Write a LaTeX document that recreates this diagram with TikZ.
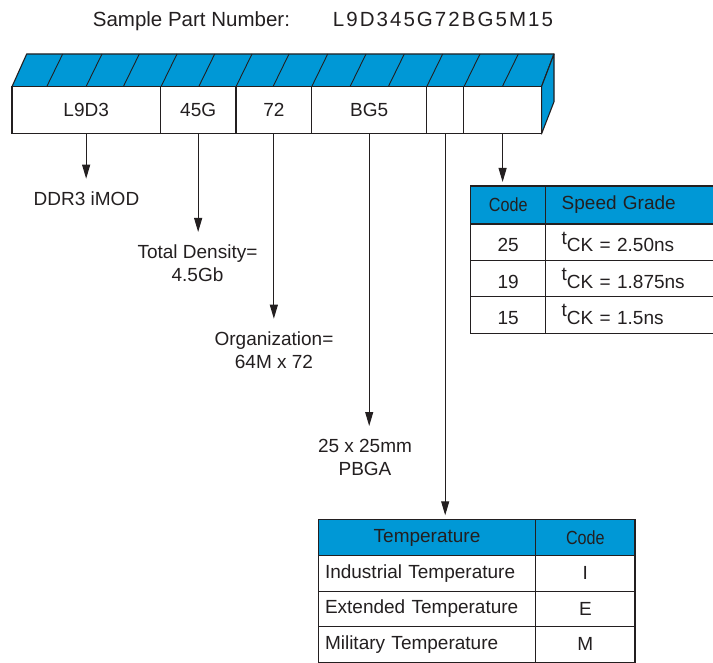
\documentclass[tikz,border=0pt]{standalone}
\usepackage{fontspec}
\setmainfont{Liberation Sans}
\usepackage{xcolor}
\usepackage{graphicx}
\usepackage{tikz}
\usetikzlibrary{arrows.meta}

\definecolor{partblue}{RGB}{0,152,214}
\definecolor{inkgray}{RGB}{35,31,32}

\newcommand{\tck}{\raisebox{0.4em}{t}CK}

\begin{document}
\begin{tikzpicture}[
  x=1pt, y=-1pt,
  txt/.style={font=\fontsize{19}{23}\selectfont, text=inkgray},
  cell/.style={draw=inkgray, line width=1.1pt, fill=white, minimum height=47.3pt, inner sep=0pt, outer sep=0pt, txt},
  face/.style={draw=inkgray, line width=1.1pt, fill=partblue, line join=round},
  hatch/.style={draw=inkgray, line width=0.9pt},
  lbl/.style={txt, align=center, anchor=north, inner xsep=0pt, inner ysep=13pt},
  head/.style={draw=inkgray, line width=1.3pt, fill=partblue, inner sep=0pt, outer sep=0pt, txt},
  row/.style={draw=inkgray, line width=1.3pt, fill=white, inner sep=0pt, outer sep=0pt, txt},
  srow/.style={row, minimum height=36.4pt, text height=19pt, text depth=0pt},
  lcol/.style={align=left, inner xsep=#1},
  arrow/.style={-{Triangle[length=14pt,width=8pt]}, line width=1pt, draw=inkgray}
]
\useasboundingbox (0,0) rectangle (713,663);

\node[txt, font=\fontsize{20.5}{24}\selectfont, anchor=base west, inner sep=0pt] (title) at (92.7,26.7) {Sample Part Number:};
\node[txt, font=\fontsize{20.5}{24}\selectfont, anchor=base west, inner sep=0pt] (partno) at (332.7,26.7) {\addfontfeature{LetterSpace=10}L9D345G72BG5M15};

% the part number bar
\draw[face] (12,86.7) -- (26.7,54) -- (554,54) -- (541.5,86.7) -- cycle;
\draw[face] (541.5,86.7) -- (554,54) -- (554,101.7) -- (541.5,134) -- cycle;
\foreach \hx in {46.7,86,123.3,161,198.7,236,273,311.7,350,388.3,426.7,464,502.3}
  \draw[hatch] (\hx,86.7) -- ++(16,-32.7);

\node[cell, minimum width=148.3pt] (c1) at (86.15,110.3) {L9D3};
\node[cell, minimum width=75.7pt] (c2) at (198.15,110.3) {45G};
\node[cell, minimum width=75.7pt] (c3) at (273.85,110.3) {72};
\node[cell, minimum width=115pt] (c4) at (369.2,110.3) {BG5};
\node[cell, minimum width=37pt] (c5) at (445.2,110.3) {};
\node[cell, minimum width=77.8pt] (c6) at (502.6,110.3) {};

\node[lbl] (lab1) at (86.5,178.7) {DDR3 iMOD};
\node[lbl] (lab2) at (197.5,232) {Total Density=\\4.5Gb};
\node[lbl] (lab3) at (274,318.7) {Organization=\\64M x 72};
\node[lbl] (lab4) at (365,426) {25 x 25mm\\PBGA};

% speed grade table
\node[head, minimum width=75pt, minimum height=38pt] (shc) at (508.2,205) {\scalebox{0.85}[1]{Code}};
\node[head, minimum width=174.3pt, minimum height=38pt, lcol=16pt, text width=142.3pt] (shg) at (632.85,205) {Speed Grade};
\node[srow, minimum width=75pt] (sc1) at (508.2,242.2) {25};
\node[srow, minimum width=174.3pt, lcol=16pt, text width=142.3pt] (sg1) at (632.85,242.2) {\tck{} = 2.50ns};
\node[srow, minimum width=75pt] (sc2) at (508.2,278.6) {19};
\node[srow, minimum width=174.3pt, lcol=16pt, text width=142.3pt] (sg2) at (632.85,278.6) {\tck{} = 1.875ns};
\node[srow, minimum width=75pt] (sc3) at (508.2,315) {15};
\node[srow, minimum width=174.3pt, lcol=16pt, text width=142.3pt] (sg3) at (632.85,315) {\tck{} = 1.5ns};

% temperature table
\node[head, minimum width=217.4pt, minimum height=36.4pt] (thl) at (427,537.5) {Temperature};
\node[head, minimum width=99.3pt, minimum height=36.4pt] (thc) at (585.35,537.5) {\scalebox{0.85}[1]{Code}};
\node[row, minimum width=217.4pt, minimum height=35.5pt, lcol=6.7pt, text width=204pt] (tl1) at (427,573.45) {Industrial Temperature};
\node[row, minimum width=99.3pt, minimum height=35.5pt] (tc1) at (585.35,573.45) {I};
\node[row, minimum width=217.4pt, minimum height=35.5pt, lcol=6.7pt, text width=204pt] (tl2) at (427,608.95) {Extended Temperature};
\node[row, minimum width=99.3pt, minimum height=35.5pt] (tc2) at (585.35,608.95) {E};
\node[row, minimum width=217.4pt, minimum height=35.5pt, lcol=6.7pt, text width=204pt] (tl3) at (427,644.45) {Military Temperature};
\node[row, minimum width=99.3pt, minimum height=35.5pt] (tc3) at (585.35,644.45) {M};

\draw[arrow] (c1.south) -- (c1.south |- lab1.north);
\draw[arrow] (c2.south) -- (c2.south |- lab2.north);
\draw[arrow] (c3.south) -- (c3.south |- lab3.north);
\draw[arrow] (c4.south) -- (c4.south |- lab4.north);
\draw[arrow, shorten >=4pt] (c5.south) -- (c5.south |- thl.north);
\draw[arrow, shorten >=4pt] (c6.south) -- (c6.south |- shc.north);
\end{tikzpicture}
\end{document}
